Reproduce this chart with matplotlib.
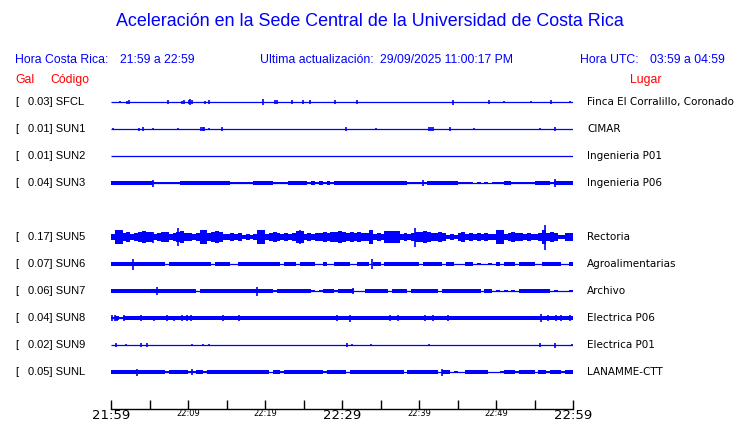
import matplotlib
import matplotlib.pyplot as plt
import numpy as np

matplotlib.use('Agg')

BLUE = '#0000ff'
RED = '#ff0000'

# stations, top to bottom (SUN4 is missing, its row is left empty)
CODES = ['SFCL', 'SUN1', 'SUN2', 'SUN3', 'SUN5', 'SUN6', 'SUN7', 'SUN8', 'SUN9', 'SUNL']
PEAK_GAL = [0.03, 0.01, 0.01, 0.04, 0.17, 0.07, 0.06, 0.04, 0.02, 0.05]
PLACES = [
    'Finca El Corralillo, Coronado',
    'CIMAR',
    'Ingenieria P01',
    'Ingenieria P06',
    'Rectoria',
    'Agroalimentarias',
    'Archivo',
    'Electrica P06',
    'Electrica P01',
    'LANAMME-CTT',
]

# minutes since 21:59
TIME_TICKS = [0, 5, 10, 15, 20, 25, 30, 35, 40, 45, 50, 55, 60]
TIME_LABELS = ['21:59', '', '22:09', '', '22:19', '', '22:29', '', '22:39', '', '22:49', '', '22:59']

# noise band: one digit per 30 s bin = half height of the trace (in band units)
ENV_SFCL = ''
ENV_SUN1 = ''
ENV_SUN2 = ''
ENV_SUN3 = (
    '2222222222' '2111111122' '2222222222' '2111111222' '2211112222' '2121212122'
    '2222222222' '2222222111' '1122222222' '1111010101' '1122111111' '2222122222'
)
ENV_SUN5 = (
    '4995645676' '6456645675' '5459956764' '4545343499' '4565454588' '4545565667'
    '6565655945' '4878845456' '6765565343' '5645454544' '9945655454' '4595653355'
)
ENV_SUN6 = (
    '2222223332' '2222023322' '2222220222' '2002333222' '3222022202' '2220020022'
    '3300222022' '0222222222' '0222220330' '0022010010' '2032203332' '0022333002'
)
ENV_SUN7 = (
    '2222222332' '2333222332' '2202222222' '2222222233' '2213222222' '2210122212'
    '2220002222' '2203322022' '2222302222' '2222220330' '1010102222' '2222010001'
)
ENV_SUN8 = (
    '1212222222' '2222222222' '2222222222' '2222222222' '2222222222' '2222222222'
    '2222222222' '2222222222' '2222222222' '2222222222' '2222222222' '2222222222'
)
ENV_SUN9 = ''
ENV_SUNL = (
    '2222233222' '2222122222' '1122122222' '2222222222' '2022122222' '2222212222'
    '2022222222' '2222220222' '2222202201' '0022222200' '0122212222' '0221222122'
)

# isolated peaks: (minute, half height in px)
SPK_SFCL = [
    (1.17, 1), (2.08, 1.5), (2.34, 2), (7.40, 2), (9.22, 1.5), (9.48, 2), (10.13, 2),
    (10.26, 3), (10.52, 2), (12.21, 1.5), (12.73, 2), (19.74, 3), (21.30, 2), (21.56, 2),
    (23.51, 2), (24.94, 2), (25.84, 2), (29.09, 2), (31.95, 2), (44.42, 2.5), (49.09, 2),
    (51.04, 1), (54.55, 1), (57.14, 2), (59.61, 1),
]
SPK_SUN1 = [
    (0.26, 1), (3.64, 1.5), (4.16, 2), (5.45, 1), (8.70, 1), (11.69, 2), (11.95, 2),
    (12.08, 2), (12.73, 1), (14.42, 2), (30.52, 2), (34.42, 1), (41.30, 2), (41.56, 2),
    (41.82, 2), (44.03, 2), (47.14, 1), (55.71, 1), (57.66, 2),
]
SPK_SUN2 = []
SPK_SUN3 = [(5.45, 3.5), (40.52, 3), (57.66, 4)]
SPK_SUN5 = [(5.45, 5.5), (8.70, 9), (24.55, 7), (33.64, 7), (39.48, 9.5), (56.36, 12.5)]
SPK_SUN6 = [(2.86, 5.5), (33.90, 5)]
SPK_SUN7 = [(5.97, 4), (18.96, 4.5), (31.43, 3)]
SPK_SUN8 = [
    (0.13, 3), (0.52, 3), (0.78, 2.5), (1.69, 3), (3.90, 3), (5.58, 2.5), (7.27, 3),
    (8.18, 2.5), (9.22, 3), (9.87, 3), (10.39, 3), (14.55, 3), (16.62, 3), (29.35, 3),
    (31.04, 3.5), (36.23, 3), (37.27, 3), (40.78, 3), (41.82, 3), (43.77, 3), (55.84, 4),
    (56.75, 3), (57.79, 3), (58.44, 3), (59.61, 3),
]
SPK_SUN9 = [
    (0.65, 2), (1.95, 1), (3.90, 2), (4.68, 2), (10.52, 1), (11.95, 1), (12.73, 1),
    (30.65, 2), (31.30, 1), (33.77, 1), (41.30, 1), (55.71, 2), (57.66, 2.5), (59.87, 1),
]
SPK_SUNL = [(3.38, 3.5), (10.52, 3), (42.99, 3.5)]

ENVELOPES = [ENV_SFCL, ENV_SUN1, ENV_SUN2, ENV_SUN3, ENV_SUN5,
             ENV_SUN6, ENV_SUN7, ENV_SUN8, ENV_SUN9, ENV_SUNL]
SPIKES = [SPK_SFCL, SPK_SUN1, SPK_SUN2, SPK_SUN3, SPK_SUN5,
          SPK_SUN6, SPK_SUN7, SPK_SUN8, SPK_SUN9, SPK_SUNL]

W, H = 740, 423
ROW_PX = 27.0  # one row in pixels
PX = 1.0 / ROW_PX
BAND_UNIT = 0.8  # px per envelope digit
BIN_MIN = 0.5


def fx(x):
    return x / W


def fy(y):
    return 1 - y / H


def draw_trace(ax, row, env, spikes):
    ax.hlines(row, 0, 60, color=BLUE, lw=0.9)
    if env:
        amp = np.array([int(c) for c in env], dtype=float) * BAND_UNIT * PX
        t = np.arange(len(amp)) * BIN_MIN
        m = amp > 0
        ax.bar(t[m], 2 * amp[m], bottom=row - amp[m], width=BIN_MIN, align='edge',
               color=BLUE, linewidth=0)
    for t, a in spikes:
        ax.vlines(t, row - a * PX, row + a * PX, color=BLUE, lw=1.2)


fig = plt.figure(figsize=(W / 100, H / 100), dpi=100)

top_px, axis_px, first_row_px = 88, 409, 102
ax = fig.add_axes([fx(111), fy(axis_px), fx(573) - fx(111), fy(top_px) - fy(axis_px)])
ax.set_xlim(0, 60)
ax.set_ylim((axis_px - first_row_px) / ROW_PX, (top_px - first_row_px) / ROW_PX)

sans = ['Liberation Sans', 'DejaVu Sans']
for i, (code, peak, place, env, spk) in enumerate(
    zip(CODES, PEAK_GAL, PLACES, ENVELOPES, SPIKES)
):
    row = i if i < 4 else i + 1
    draw_trace(ax, row, env, spk)
    ypx = first_row_px + row * ROW_PX
    fig.text(fx(15), fy(ypx), '[', fontsize=8, family=sans, va='center')
    fig.text(fx(28), fy(ypx), f'{peak:.2f}] {code}', fontsize=8, family=sans, va='center')
    fig.text(fx(587), fy(ypx), place, fontsize=7.5, family='DejaVu Sans', va='center')

for side in ['left', 'right', 'top']:
    ax.spines[side].set_visible(False)
ax.spines['bottom'].set_linewidth(1.0)
ax.set_yticks([])
ax.set_xticks(TIME_TICKS)
ax.set_xticklabels(TIME_LABELS)
ax.tick_params(axis='x', direction='in', length=6.5, width=1.0, pad=0)
for lbl in ax.get_xticklabels():
    if lbl.get_text() in ('21:59', '22:29', '22:59'):
        lbl.set_fontsize(9.5)
    else:
        lbl.set_fontsize(6)

fig.text(0.5, fy(22), 'Aceleración en la Sede Central de la Universidad de Costa Rica',
         ha='center', va='center', color=BLUE, fontsize=12.9, family=sans)

hdr = dict(fontsize=8.8, family=sans, va='center', color=BLUE)
fig.text(fx(15), fy(60), 'Hora Costa Rica:', **hdr)
fig.text(fx(120), fy(60), '21:59 a 22:59', **hdr)
fig.text(fx(260), fy(60), 'Ultima actualización:', **hdr)
fig.text(fx(380), fy(60), '29/09/2025 11:00:17 PM', **hdr)
fig.text(fx(580), fy(60), 'Hora UTC:', **hdr)
fig.text(fx(650), fy(60), '03:59 a 04:59', **hdr)

lab = dict(fontsize=8.8, family=sans, va='center', color=RED)
fig.text(fx(15), fy(80), 'Gal', **lab)
fig.text(fx(50), fy(80), 'Código', **lab)
fig.text(fx(630), fy(80), 'Lugar', **lab)

fig.savefig('out.png', dpi=100)
